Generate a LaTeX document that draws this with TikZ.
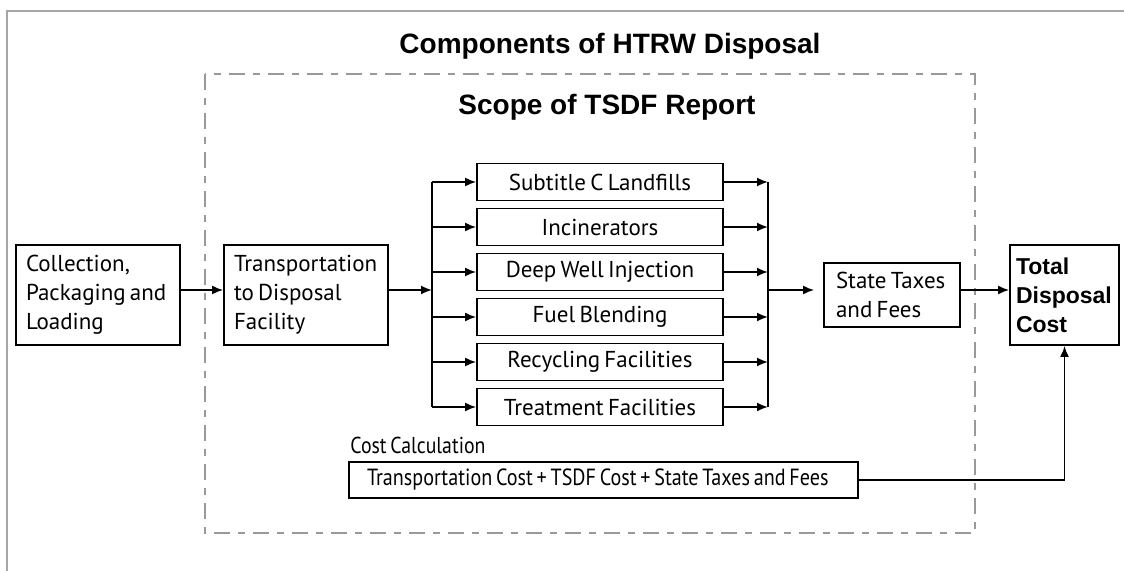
\documentclass[tikz,border=0pt]{standalone}
\usepackage{fontspec}
\setmainfont[WordSpace={0.7,0,0}]{PT Sans}
\newfontfamily\headfont{Liberation Sans}
\newfontfamily\condfont[FakeStretch=0.86,WordSpace={0.7,0,0}]{PT Sans}
\usetikzlibrary{arrows.meta,calc}
\begin{document}
\begin{tikzpicture}[x=0.5pt,y=-0.5pt,
  box/.style={draw,line width=0.9pt,inner ysep=0pt,
    font=\fontsize{11.5}{14.5}\selectfont},
  lbox/.style={box,align=flush left},
  mbox/.style={box,align=center,minimum width=123pt,minimum height=18.5pt,inner xsep=0pt},
  conn/.style={line width=0.9pt},
  arr/.style={conn,-{Latex[length=5.5pt,width=4.5pt]}},
  frame/.style={draw=gray!70,line width=1.3pt},
  scope/.style={draw=gray!80,line width=0.8pt,dash pattern=on 8pt off 4pt on 3.5pt off 4pt},
  head/.style={font=\headfont\bfseries\fontsize{14}{16}\selectfont}]
\useasboundingbox (0,0) rectangle (1124,571);
\fill[white] (0,0) rectangle (1124,571);
% outer frame (left and top edges)
\draw[frame] (7,571) -- (7,11) -- (1124,11);
\node[head] (t1) at (610,46) {Components of HTRW Disposal};
% dashed scope box
\draw[scope] (205,74) rectangle (975,533);
\node[head] (t2) at (607,107) {Scope of TSDF Report};
% left boxes
\node[lbox,text width=72pt,inner xsep=5pt,minimum height=50pt] (coll) at (98,295)
  {Collection,\\Packaging and\\Loading};
\node[lbox,text width=72pt,inner xsep=5pt,minimum height=50pt] (trans) at (306,295)
  {Transportation\\to Disposal\\Facility};
% middle boxes
\node[mbox] (m1) at (600,182) {Subtitle C Landfills};
\node[mbox] (m2) at (600,227) {Incinerators};
\node[mbox] (m3) at (600,272) {Deep Well Injection};
\node[mbox] (m4) at (600,317) {Fuel Blending};
\node[mbox] (m5) at (600,362) {Recycling Facilities};
\node[mbox] (m6) at (600,407) {Treatment Facilities};
% state taxes
\node[lbox,text width=56pt,inner xsep=6pt,minimum height=32pt] (state) at (892,295)
  {State Taxes\\and Fees};
% total
\node[box,align=flush left,text width=48.5pt,inner xsep=3pt,minimum height=50pt,
  font=\headfont\bfseries\fontsize{11.5}{14.5}\selectfont] (total) at (1064.5,295)
  {Total\\Disposal\\Cost};
% cost calculation
\node[anchor=west,inner sep=0pt,font=\condfont\fontsize{11.5}{14}\selectfont] (clab) at (350,445)
  {Cost Calculation};
\node[box,align=flush left,text width=236.5pt,inner xsep=9pt,minimum height=18pt,
  font=\condfont\fontsize{11.7}{14}\selectfont] (cost) at (603.5,480)
  {Transportation Cost + TSDF Cost + State Taxes and Fees};
% connectors
\coordinate (ym) at (0,290);
\coordinate (bl) at (432,290);
\coordinate (br) at (768,290);
\draw[arr] (coll.east |- ym) -- (trans.west |- ym);
\draw[arr] (trans.east |- ym) -- (bl);
\draw[conn] (bl |- m1.west) -- (bl |- m6.west);
\draw[conn] (br |- m1.east) -- (br |- m6.east);
\foreach \i in {1,...,6}{
  \draw[arr] (bl |- m\i.west) -- (m\i.west);
  \draw[arr] (m\i.east) -- (br |- m\i.east);
}
\draw[arr,shorten >=4.5pt] (br) -- (state.west |- ym);
\draw[arr] (state.east |- ym) -- (total.west |- ym);
\draw[arr] (cost.east) -| (total.south);
\end{tikzpicture}
\end{document}
